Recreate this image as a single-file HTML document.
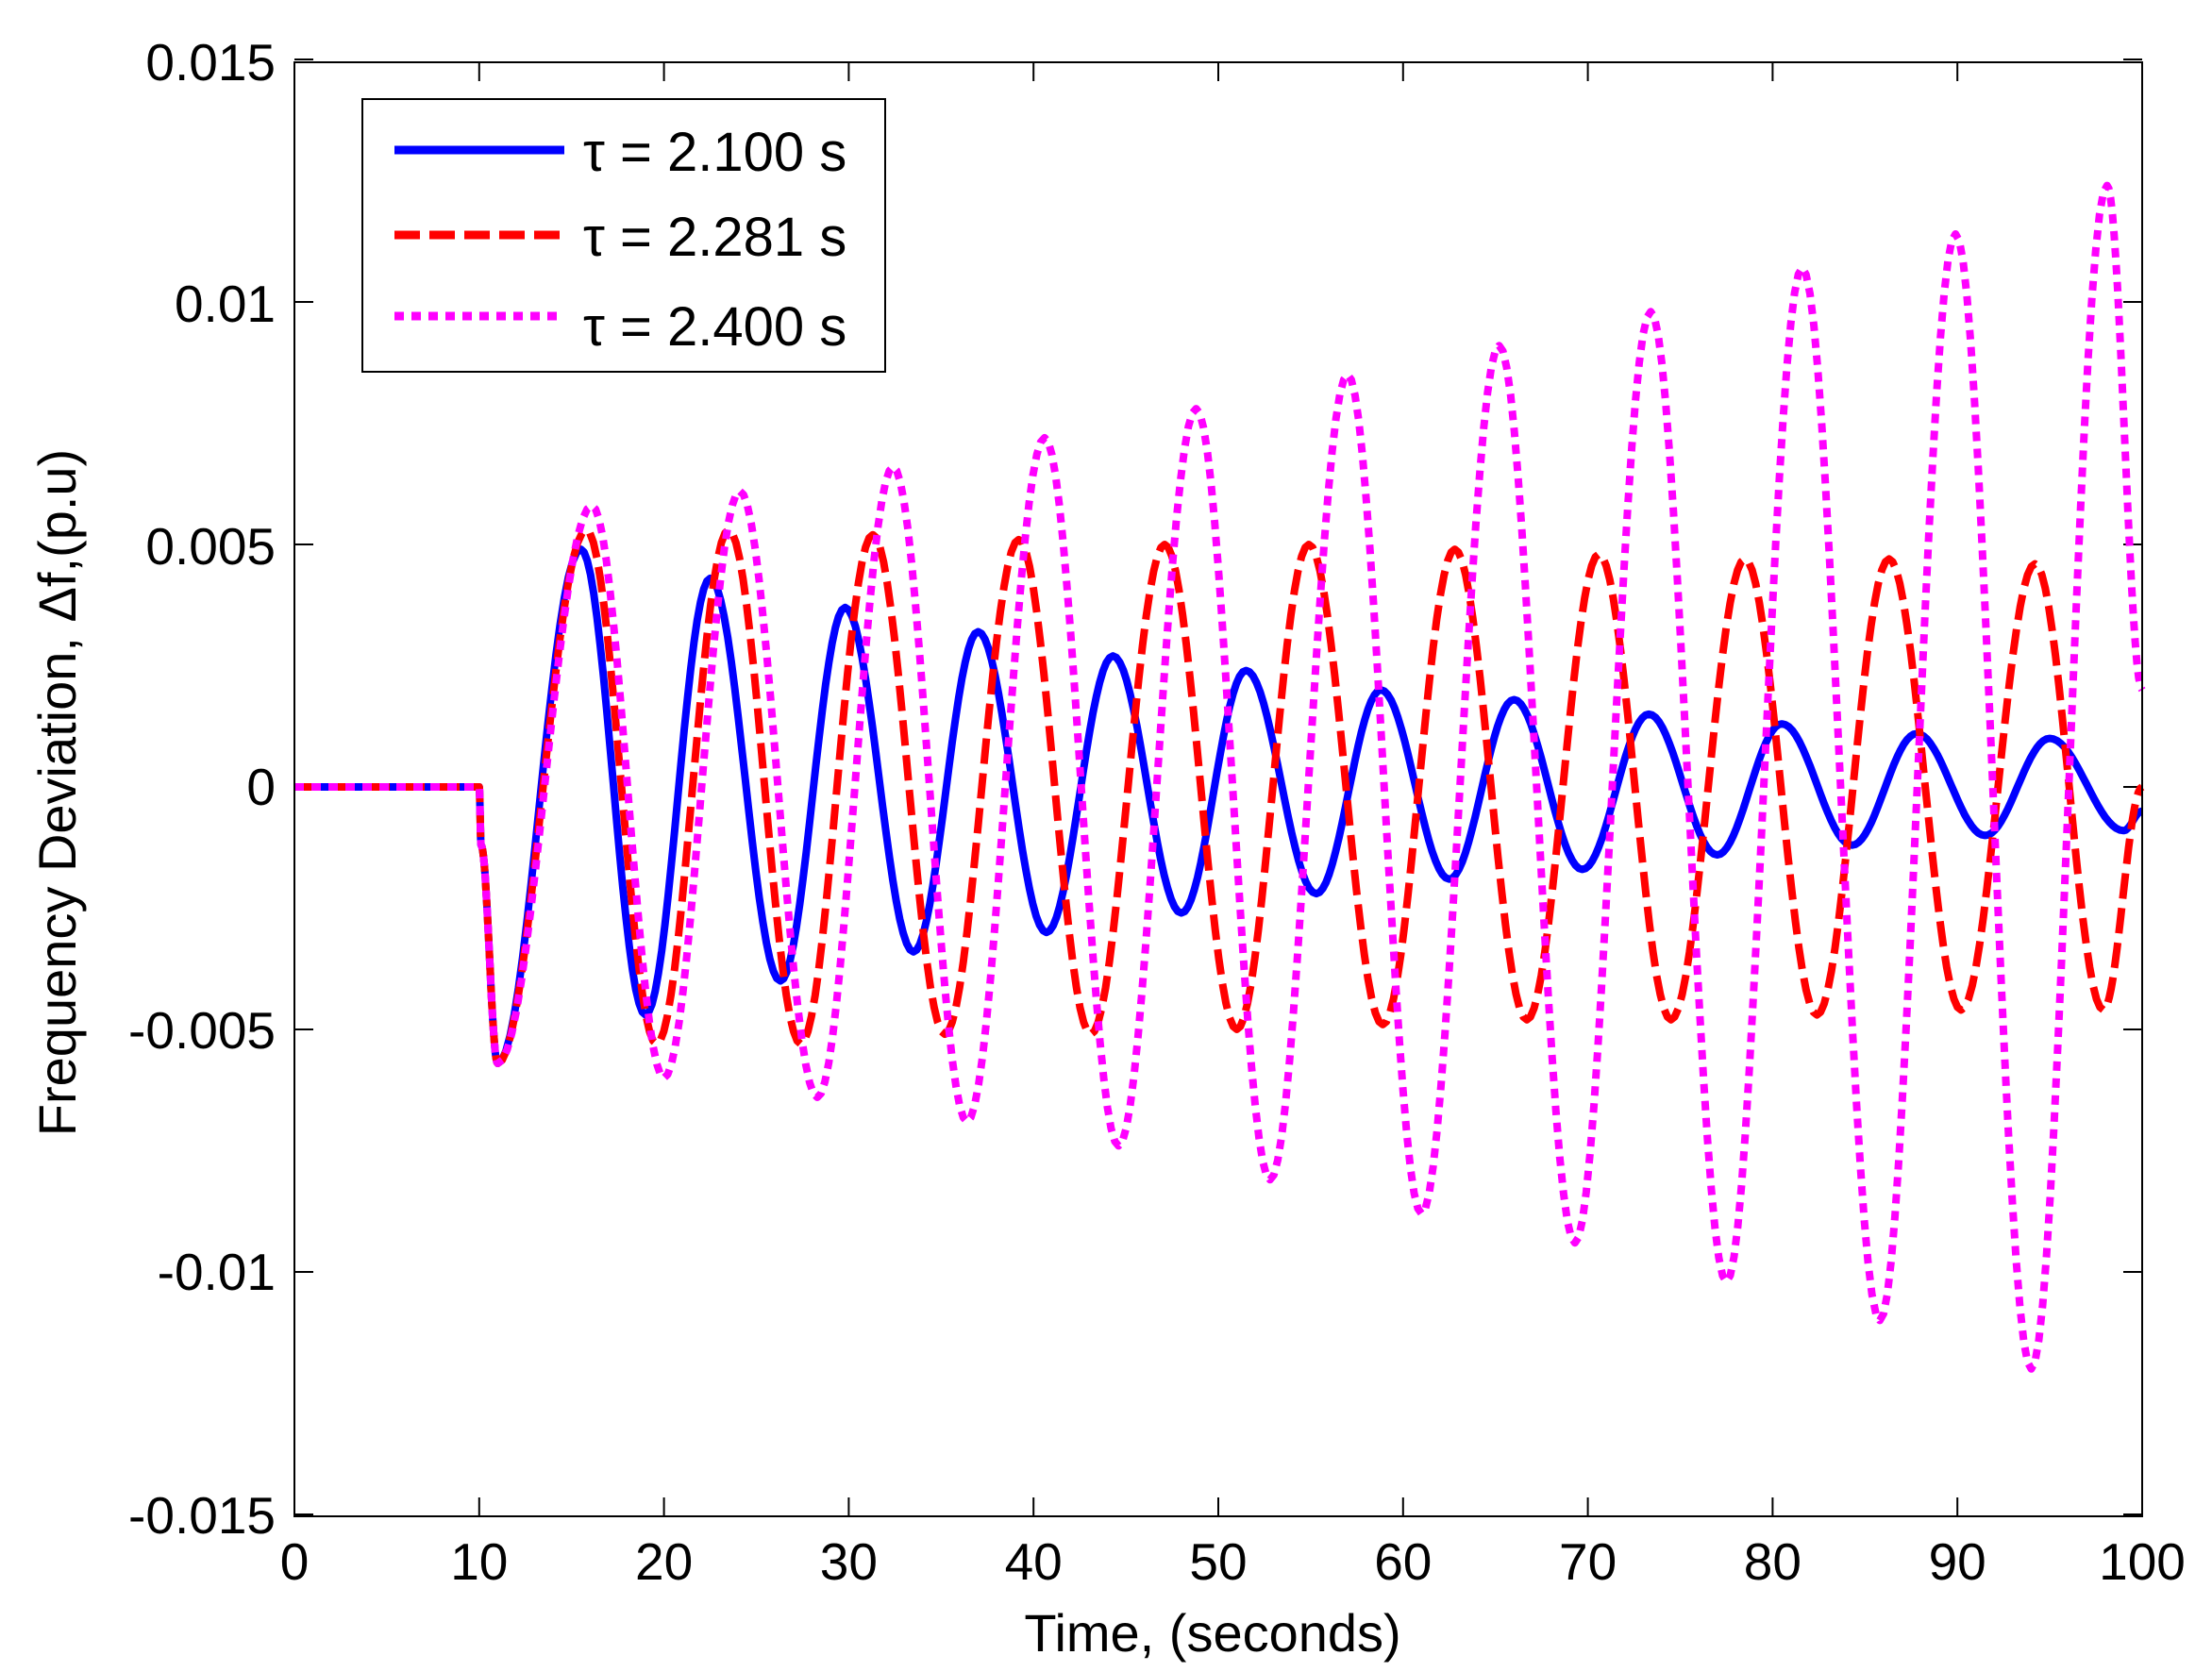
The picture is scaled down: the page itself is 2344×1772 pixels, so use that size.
<!DOCTYPE html>
<html><head><meta charset="utf-8"><style>
html,body{margin:0;padding:0;background:#fff}
svg{display:block}
text{font-family:"Liberation Sans",Arial,sans-serif;fill:#000}
</style></head><body>
<svg id="s" width="2344" height="1772" viewBox="0 0 2344 1772" xmlns="http://www.w3.org/2000/svg">
<rect width="2344" height="1772" fill="#fff"/>
<g id="ticks" stroke="#000" stroke-width="2"></g>
<g id="series" fill="none" stroke-linejoin="round"></g>
<rect x="312" y="66" width="1958" height="1541" fill="none" stroke="#000" stroke-width="2"/>
<g font-size="55" text-anchor="end">
<text x="292" y="85">0.015</text>
<text x="292" y="341">0.01</text>
<text x="292" y="598">0.005</text>
<text x="292" y="853">0</text>
<text x="292" y="1111">-0.005</text>
<text x="292" y="1367">-0.01</text>
<text x="292" y="1625">-0.015</text>
</g>
<g id="xl" font-size="55" text-anchor="middle"></g>
<text x="1285" y="1750" font-size="56" text-anchor="middle">Time, (seconds)</text>
<text transform="translate(80,840) rotate(-90)" font-size="56" text-anchor="middle">Frequency Deviation, Δf,(p.u)</text>
<rect x="384" y="105" width="554" height="289" fill="#fff" stroke="#000" stroke-width="2"/>
<line x1="418" y1="159" x2="598" y2="159" stroke="#0000ff" stroke-width="9"/>
<line x1="418" y1="249" x2="598" y2="249" stroke="#ff0000" stroke-width="9" stroke-dasharray="27 10"/>
<line x1="418" y1="335" x2="598" y2="335" stroke="#ff00ff" stroke-width="9" stroke-dasharray="10 8"/>
<g font-size="58">
<text x="618" y="181">τ = 2.100 s</text>
<text x="618" y="271">τ = 2.281 s</text>
<text x="618" y="366">τ = 2.400 s</text>
</g>
</svg>
<script>
var X=function(t){return 312+t*19.58;},Y=function(v){return 834-v*51400;};
var tk=document.getElementById('ticks'),xl=document.getElementById('xl'),h='';
for(var i=0;i<=10;i++){var x=X(i*10);h+='<line x1="'+x+'" y1="1607" x2="'+x+'" y2="1587"/><line x1="'+x+'" y1="66" x2="'+x+'" y2="86"/>';
xl.innerHTML+='<text x="'+x+'" y="1674">'+(i*10)+'</text>';}
for(var j=-3;j<=3;j++){var y=Y(j*0.005);h+='<line x1="312" y1="'+y+'" x2="332" y2="'+y+'"/><line x1="2270" y1="'+y+'" x2="2250" y2="'+y+'"/>';}
tk.innerHTML=h;
function path(ex){var d='M'+X(0)+' '+Y(0)+' L'+X(10)+' '+Y(0);
for(var k=0;k<ex.length-1;k++){var a=ex[k],b=ex[k+1];for(var s=1;s<=20;s++){var u=s/20,t=a[0]+(b[0]-a[0])*u,v=a[1]+(b[1]-a[1])*(1-Math.cos(Math.PI*u))/2;d+=' L'+X(t).toFixed(1)+' '+Y(v).toFixed(1);}}
return d;}
var blue=[[10,0],[10.1,-0.0012],[11,-0.0057],[15.5,0.0049],[19,-0.0047],[22.5,0.0043],[26.3,-0.004],[29.8,0.0037],[33.5,-0.0034],[37,0.0032],[40.7,-0.003],[44.3,0.0027],[48,-0.0026],[51.5,0.0024],[55.3,-0.0022],[58.8,0.002],[62.5,-0.0019],[66,0.0018],[69.7,-0.0017],[73.3,0.0015],[77,-0.0014],[80.5,0.0013],[84.3,-0.0012],[87.8,0.0011],[91.5,-0.001],[95,0.001],[99,-0.0009],[100,-0.0005]];
var red=[[10,0],[10.1,-0.0012],[11,-0.0057],[15.8,0.0053],[19.6,-0.0053],[23.5,0.0053],[27.4,-0.0053],[31.3,0.0052],[35.2,-0.0051],[39.2,0.0051],[43.1,-0.0051],[47.1,0.005],[51,-0.005],[54.9,0.005],[58.9,-0.0049],[62.8,0.0049],[66.7,-0.0048],[70.6,0.0048],[74.5,-0.0048],[78.5,0.0047],[82.4,-0.0047],[86.3,0.0047],[90.2,-0.0046],[94.2,0.0046],[97.9,-0.0046],[100,0]];
var mag=[[10,0],[10.1,-0.0012],[11,-0.0057],[16.1,0.0058],[20,-0.006],[24.1,0.0061],[28.3,-0.0064],[32.4,0.0066],[36.4,-0.0069],[40.6,0.0072],[44.6,-0.0074],[48.8,0.0078],[52.8,-0.0081],[57,0.0085],[61,-0.0088],[65.2,0.0091],[69.3,-0.0094],[73.4,0.0098],[77.5,-0.0102],[81.6,0.0107],[85.8,-0.011],[89.9,0.0114],[94,-0.012],[98.1,0.0124],[100,0.002]];
document.getElementById('series').innerHTML=
'<path d="'+path(blue)+'" stroke="#0000ff" stroke-width="8"/>'+
'<path d="'+path(red)+'" stroke="#ff0000" stroke-width="8" stroke-dasharray="27 10"/>'+
'<path d="'+path(mag)+'" stroke="#ff00ff" stroke-width="8" stroke-dasharray="10 8"/>';
</script>
</body></html>
